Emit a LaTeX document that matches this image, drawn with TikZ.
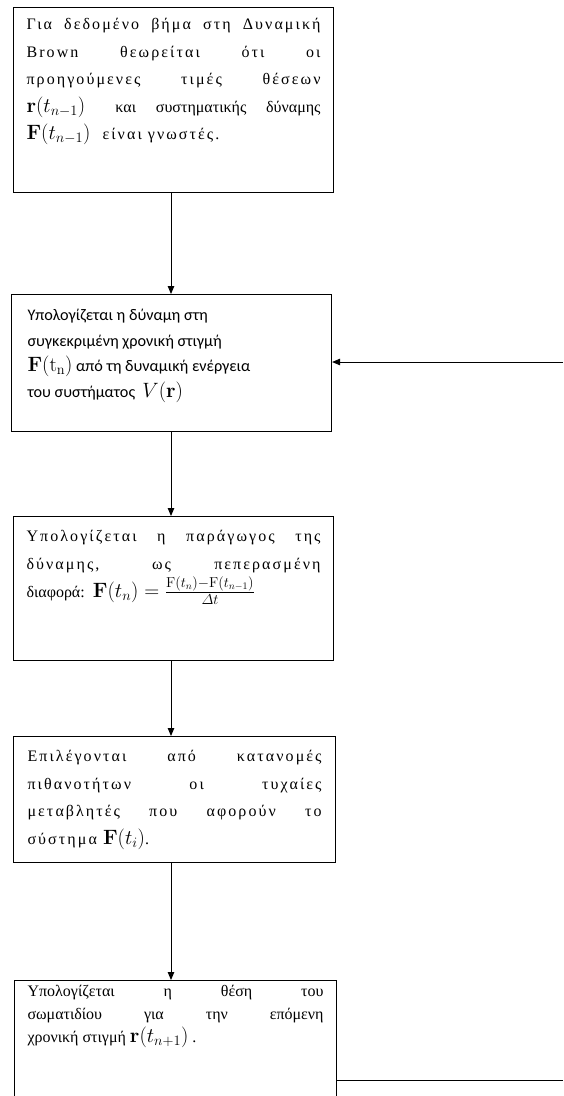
\documentclass[tikz,border=0pt]{standalone}
\usepackage{amsmath}
\usepackage[no-math]{fontspec}
\setmainfont{Liberation Serif}
\newfontfamily\lsp[LetterSpace=13]{Liberation Serif}
\newfontfamily\grsans{Carlito}
\usetikzlibrary{arrows.meta,calc}
\newcommand\jline[1]{\makebox[\linewidth][s]{#1}}
\newcommand\mth[1]{{\fontsize{19.5}{20}\selectfont$#1$}}
\newcommand\mths[1]{{\fontsize{22}{22}\selectfont$#1$}}
\tikzset{
  box/.style={draw, line width=1.1pt, rectangle, inner ysep=0pt, anchor=north west, fill=white},
  arr/.style={line width=0.9pt, -{Triangle[length=8pt,width=6.5pt]}},
  plain/.style={line width=0.9pt}
}
\begin{document}
\begin{tikzpicture}[x=1pt,y=1pt]
\clip (0,0) rectangle (563,-1096);
\useasboundingbox (0,0) rectangle (563,-1096);
\fill[white] (0,0) rectangle (563,-1096);

\node[box, inner xsep=13pt] (b1) at (13,-7) {\parbox[t][185pt][t]{294pt}{\lsp\fontsize{16}{27.5}\selectfont
\rule{0pt}{22pt}\jline{Για δεδομένο βήμα στη Δυναμική}\\
\jline{Brown θεωρείται ότι οι}\\
\jline{προηγούμενες τιμές θέσεων}\\
\jline{\mth{\mathbf{r}(t_{n-1})}\ {\rmfamily και συστηματικής δύναμης}}\\
\mth{\mathbf{F}(t_{n-1})}\ \ είναι\ γνωστές.}};

\node[box, inner xsep=16pt] (b2) at (11,-294) {\parbox[t][137pt][t]{288pt}{\grsans\fontsize{16.2}{25.5}\selectfont\raggedright
\rule{0pt}{26pt}Υπολογίζεται η δύναμη στη\\
συγκεκριμένη χρονική στιγμή\\
\mths{\mathbf{F}(\mathrm{t}_{\mathrm{n}})} από τη δυναμική ενέργεια\\
του συστήματος\ \ \mths{V(\mathbf{r})}}};

\node[box, inner xsep=13pt] (b3) at (13,-516) {\parbox[t][144pt][t]{294pt}{\lsp\fontsize{16}{28}\selectfont
\rule{0pt}{25pt}\jline{Υπολογίζεται η παράγωγος της}\\
\jline{δύναμης, ως πεπερασμένη}\\
{\rmfamily διαφορά:} \mth{\mathbf{F}(t_n) = \frac{\mathrm{F}(t_n)-\mathrm{F}(t_{n-1})}{\varDelta t}}}};

\node[box, inner xsep=14pt] (b4) at (13,-736) {\parbox[t][126pt][t]{294pt}{\lsp\fontsize{16}{27.7}\selectfont
\rule{0pt}{25pt}\jline{Επιλέγονται από κατανομές}\\
\jline{πιθανοτήτων οι τυχαίες}\\
\jline{μεταβλητές που αφορούν το}\\
σύστημα\ \mth{\mathbf{F}(t_i)}.}};

\node[box, inner xsep=13pt] (b5) at (14,-980) {\parbox[t][140pt][t]{296pt}{\fontsize{16}{23}\selectfont
\rule{0pt}{16pt}\jline{Υπολογίζεται η θέση του}\\
\jline{σωματιδίου για την επόμενη}\\
χρονική στιγμή \mth{\mathbf{r}(t_{n+1})} .}};

\coordinate (ax) at (171,0);
\coordinate (r1) at (563,-362);
\coordinate (r2) at (563,-1080);

\draw[arr] (b1.south -| ax) -- (b2.north -| ax);
\draw[arr] (b2.south -| ax) -- (b3.north -| ax);
\draw[arr] (b3.south -| ax) -- (b4.north -| ax);
\draw[arr] (b4.south -| ax) -- (b5.north -| ax);
\draw[arr] (r1) -- (r1 -| b2.east);
\draw[plain] (r2 -| b5.east) -- (r2);
\end{tikzpicture}
\end{document}
